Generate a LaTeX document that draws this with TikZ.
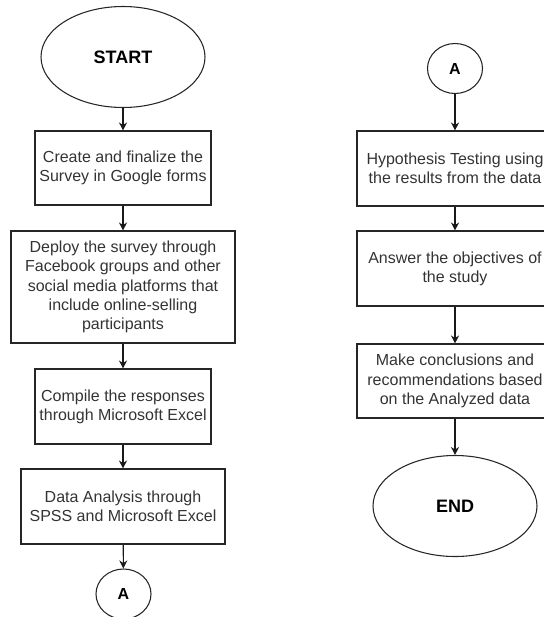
\documentclass[tikz,border=0pt]{standalone}
\usepackage{fontspec}
\setmainfont{Liberation Sans}
\usetikzlibrary{shapes.geometric,arrows.meta}
\newlength\px
\setlength\px{0.75pt}
\tikzset{
  box/.style={draw=black!85,thick,rectangle,align=center,inner sep=0pt,
    text=black!80,font=\fontsize{12}{14.4}\selectfont},
  term/.style={draw=black!85,thick,ellipse,inner sep=0pt,
    minimum width=164\px,minimum height=101\px,
    font=\fontsize{13.5}{16}\selectfont\bfseries},
  conn/.style={draw=black!85,thick,ellipse,inner sep=0pt,
    minimum width=55\px,minimum height=50\px,
    font=\fontsize{12}{14.4}\selectfont\bfseries},
  arr/.style={thick,black!90,-{Stealth[length=6pt,width=6pt]}}
}
\begin{document}
\begin{tikzpicture}[x=0.75pt,y=-0.75pt]
    \useasboundingbox (0,0) rectangle (543,617);
    % left column
    \node[term] (start) at (123,57) {START};
    \node[box,minimum width=176\px,minimum height=74\px] (create) at (123,168)
      {Create and finalize the\\Survey in Google forms};
    \node[box,minimum width=224\px,minimum height=112\px] (deploy) at (123,287)
      {Deploy the survey through\\Facebook groups and other\\social media platforms that\\include online-selling\\participants};
    \node[box,minimum width=176\px,minimum height=75\px] (compile) at (123,406.5)
      {Compile the responses\\through Microsoft Excel};
    \node[box,minimum width=204\px,minimum height=75\px] (analysis) at (123,506.5)
      {Data Analysis through\\SPSS and Microsoft Excel};
    \node[conn] (outA) at (123.5,594) {A};
    % right column
    \node[conn] (inA) at (455,68.5) {A};
    \node[box,minimum width=196\px,minimum height=75\px] (hypo) at (455,168.5)
      {Hypothesis Testing using\\the results from the data};
    \node[box,minimum width=196\px,minimum height=75\px] (answer) at (455,268.5)
      {Answer the objectives of\\the study};
    \node[box,minimum width=196\px,minimum height=74\px] (concl) at (455,381)
      {Make conclusions and\\recommendations based\\on the Analyzed data};
    \node[term] (end) at (455,506) {END};
    % connectors
    \foreach \a/\b in {start/create,create/deploy,deploy/compile,compile/analysis,
      analysis/outA,inA/hypo,hypo/answer,answer/concl,concl/end}
      \draw[arr] (\a) -- (\b);
\end{tikzpicture}
\end{document}
